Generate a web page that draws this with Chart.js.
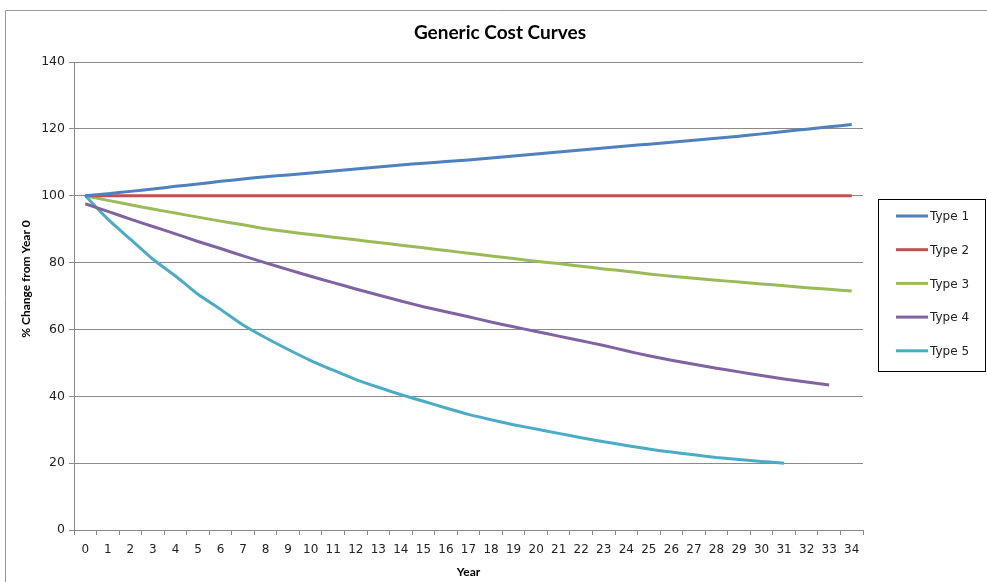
<!DOCTYPE html>
<html>
<head>
<meta charset="utf-8">
<script src="https://cdn.jsdelivr.net/npm/chart.js@4/dist/chart.umd.min.js"></script>
<style>
  html, body { margin: 0; padding: 0; background: #fff; }
  #wrap { width: 987px; height: 582px; position: relative; }
</style>
</head>
<body>
<div id="wrap"><canvas id="c" width="987" height="582"></canvas></div>
<script>
const years = ["0","1","2","3","4","5","6","7","8","9","10","11","12","13","14","15","16","17","18","19","20","21","22","23","24","25","26","27","28","29","30","31","32","33","34"];
const seriesNames = ["Type 1","Type 2","Type 3","Type 4","Type 5"];
const type1 = [100,100.6,101.3,102,102.8,103.5,104.3,105,105.7,106.2,106.8,107.4,108,108.6,109.2,109.7,110.2,110.7,111.3,111.9,112.5,113.1,113.7,114.3,114.9,115.4,116,116.6,117.2,117.8,118.5,119.2,119.9,120.6,121.3];
const type2 = [100,100,100,100,100,100,100,100,100,100,100,100,100,100,100,100,100,100,100,100,100,100,100,100,100,100,100,100,100,100,100,100,100,100,100];
const type3 = [100,98.6,97.3,96,94.8,93.6,92.4,91.3,90.1,89.2,88.4,87.6,86.8,86,85.2,84.4,83.6,82.8,82,81.2,80.4,79.7,78.9,78.1,77.4,76.6,75.9,75.3,74.7,74.2,73.6,73.1,72.5,72,71.5];
const type4 = [97.6,95.3,93,90.8,88.6,86.3,84.2,82,79.9,77.9,75.9,74,72.1,70.3,68.5,66.8,65.3,63.8,62.2,60.8,59.4,58,56.6,55.2,53.6,52.1,50.8,49.6,48.4,47.3,46.2,45.2,44.3,43.4];
const type5 = [100,93,87,81,76,70.5,66,61.3,57.5,54,50.7,47.8,45,42.7,40.5,38.5,36.5,34.6,33,31.5,30.2,28.9,27.6,26.4,25.3,24.2,23.3,22.5,21.7,21.1,20.5,20];
const yTicks = [0,20,40,60,80,100,120,140];
const chartTitle = "Generic Cost Curves";
const xTitle = "Year";
const yTitle = "% Change from Year 0";

const colors = ["#4F81BD","#C0504D","#9BBB59","#8064A2","#4BACC6"];
const values = [type1,type2,type3,type4,type5];

const decor = {
  id: 'decor',
  beforeDraw(chart) {
    const ctx = chart.ctx;
    ctx.save();
    ctx.fillStyle = '#fff';
    ctx.fillRect(0,0,chart.width,chart.height);
    ctx.strokeStyle = '#9a9a9a';
    ctx.lineWidth = 1;
    ctx.beginPath();
    ctx.moveTo(5.5, 582);
    ctx.lineTo(5.5, 10.5);
    ctx.lineTo(987, 10.5);
    ctx.stroke();
    ctx.restore();
  },
  afterDraw(chart) {
    const ctx = chart.ctx;
    ctx.save();
    ctx.fillStyle = '#000';
    ctx.font = 'bold 19px Lato';
    ctx.textAlign = 'center';
    ctx.textBaseline = 'middle';
    ctx.fillText(chartTitle, 500, 33);
    ctx.save();
    ctx.translate(26, 279);
    ctx.rotate(-Math.PI/2);
    ctx.font = 'bold 12px Lato';
    ctx.fillText(yTitle, 0, 0);
    ctx.restore();
    ctx.strokeStyle = '#000';
    ctx.lineWidth = 1;
    ctx.strokeRect(878.5, 199.5, 107, 172);
    ctx.font = '12px "DejaVu Sans"';
    ctx.textAlign = 'left';
    chart.data.datasets.forEach((ds, i) => {
      const y = 216 + i * 33.7;
      ctx.strokeStyle = ds.borderColor;
      ctx.lineWidth = 3;
      ctx.beginPath();
      ctx.moveTo(896, y);
      ctx.lineTo(928, y);
      ctx.stroke();
      ctx.fillStyle = '#222';
      ctx.fillText(ds.label, 930, y + 1);
    });
    ctx.restore();
  }
};

new Chart(document.getElementById('c'), {
  type: 'line',
  data: {
    labels: years,
    datasets: seriesNames.map((n, i) => ({
      label: n,
      data: values[i],
      borderColor: colors[i],
      backgroundColor: colors[i],
      borderWidth: 3,
      pointRadius: 0,
      tension: 0.2,
      fill: false
    }))
  },
  options: {
    responsive: false,
    animation: false,
    layout: { padding: { left: 0, top: 62, right: 124, bottom: 3 } },
    plugins: { legend: { display: false }, title: { display: false }, tooltip: { enabled: false } },
    scales: {
      x: {
        offset: true,
        grid: { offset: true, drawOnChartArea: false, color: '#888', tickLength: 5, tickWidth: 1 },
        border: { color: '#888', width: 1 },
        ticks: { color: '#222', font: { family: 'DejaVu Sans', size: 12 }, padding: 8, maxRotation: 0, autoSkip: false },
        title: { display: true, text: xTitle, color: '#000', font: { family: 'Lato', size: 12, weight: 'bold' }, padding: { top: 1, bottom: 0 } },
        afterFit(s) { s.height = 49; }
      },
      y: {
        min: 0, max: 140,
        afterBuildTicks(s) { s.ticks = yTicks.map(v => ({ value: v })); },
        grid: { color: '#8a8a8a', tickLength: 5, lineWidth: 1 },
        border: { color: '#888', width: 1 },
        ticks: { color: '#222', font: { family: 'DejaVu Sans', size: 12.5 }, padding: 4 },
        afterFit(s) { s.width = 74; }
      }
    }
  },
  plugins: [decor]
});
</script>
</body>
</html>
